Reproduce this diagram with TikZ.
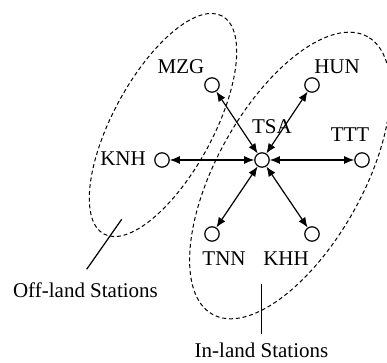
\documentclass[tikz,border=0pt]{standalone}
\usepackage{fontspec}
\setmainfont{Liberation Serif}
\usetikzlibrary{arrows.meta}

\tikzset{
  station/.style={circle, draw, line width=0.6pt, minimum size=7.2pt, inner sep=0pt},
  link/.style={{Latex[length=5pt,width=4pt]}-{Latex[length=5pt,width=4pt]}, line width=0.6pt},
  region/.style={dash pattern=on 2pt off 1.4pt, line width=0.5pt},
  tag/.style={anchor=base, inner sep=0pt, font=\fontsize{10.5}{12}\selectfont}
}

\begin{document}
\begin{tikzpicture}[x=0.5pt,y=0.5pt]
\def\W{387}
\def\H{363}
\useasboundingbox (0,0) rectangle (\W,\H);
\clip (0,0) rectangle (\W,\H);

% station groups
\draw[region, rotate around={61.5:(163,238)}] (163,238) ellipse [x radius=124, y radius=50];
\draw[region, rotate around={60.8:(290,187.5)}] (290,187.5) ellipse [x radius=159, y radius=73];

% stations
\node[station] (tsa) at (262,203) {};
\node[station] (mzg) at (212,278) {};
\node[station] (hun) at (312,278) {};
\node[station] (knh) at (162,203) {};
\node[station] (ttt) at (362,203) {};
\node[station] (tnn) at (212,129) {};
\node[station] (khh) at (312,129) {};

\node[tag] (tsa-name) at (272,229) {TSA};
\node[tag] (mzg-name) at (181,289) {MZG};
\node[tag] (hun-name) at (337,289) {HUN};
\node[tag] (knh-name) at (123,197) {KNH};
\node[tag] (ttt-name) at (350,221) {TTT};
\node[tag] (tnn-name) at (224,97) {TNN};
\node[tag] (khh-name) at (286,97) {KHH};

% links to TSA
\foreach \s in {mzg,hun,knh,ttt,tnn,khh}
  \draw[link] (tsa) -- (\s);

% group labels
\node[tag] (off-name) at (85.5,65) {Off-land Stations};
\node[tag] (in-name) at (261.5,5) {In-land Stations};
\coordinate (off-a) at (121.7,143.7);
\coordinate (off-b) at (86.7,93.7);
\coordinate (in-a) at (261.7,79);
\coordinate (in-b) at (261.7,29);
\draw[line width=0.6pt] (off-a) -- (off-b);
\draw[line width=0.6pt] (in-a) -- (in-b);

\end{tikzpicture}
\end{document}
